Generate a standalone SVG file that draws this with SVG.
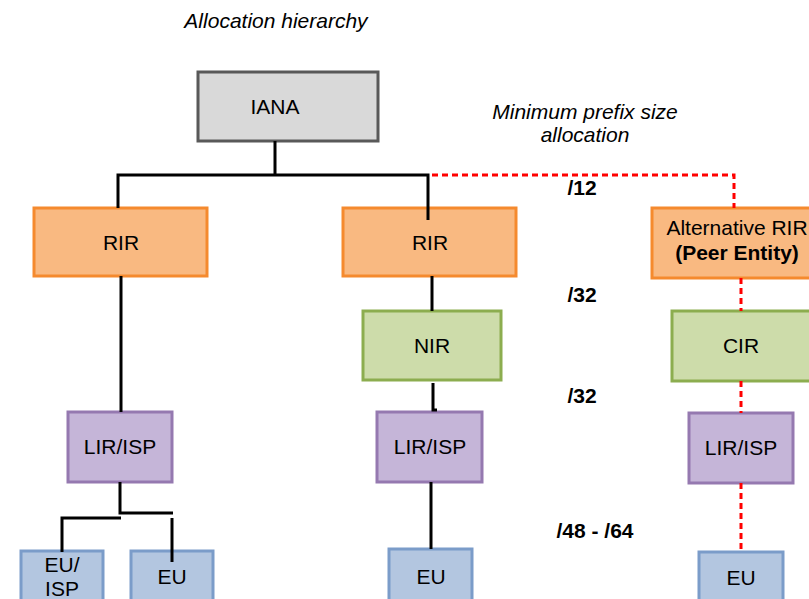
<svg xmlns="http://www.w3.org/2000/svg" width="809" height="599" viewBox="0 0 809 599">
<style>
text{font-family:"Liberation Sans",Arial,sans-serif;font-size:21px;fill:#000;text-anchor:middle}
.it{font-style:italic}
.b{font-weight:bold}
.iana{fill:#d9d9d9;stroke:#595959;stroke-width:3}
.rir{fill:#f9b981;stroke:#f58a2e;stroke-width:3}
.nir{fill:#cddcaa;stroke:#8cad4f;stroke-width:3}
.lir{fill:#c5b5d8;stroke:#9579b0;stroke-width:3}
.eu{fill:#b3c6e0;stroke:#7b9cc9;stroke-width:3}
.ln{fill:none;stroke:#000;stroke-width:3}
.rd{fill:none;stroke:#ff0000;stroke-width:3;stroke-dasharray:6 4}
</style>
<rect width="809" height="599" fill="#fff"/>
<text class="it" x="276" y="28">Allocation hierarchy</text>
<text class="it" x="585" y="119">Minimum prefix size</text>
<text class="it" x="585" y="142">allocation</text>
<text class="b" x="582" y="195">/12</text>
<text class="b" x="582" y="302">/32</text>
<text class="b" x="582" y="403">/32</text>
<text class="b" x="595" y="538">/48 - /64</text>
<g id="IANA"><rect class="iana" x="198" y="72" width="180" height="69"/><text x="275" y="114">IANA</text></g>
<g id="RIR1"><rect class="rir" x="34" y="208" width="173" height="68"/><text x="121" y="250">RIR</text></g>
<g id="RIR2"><rect class="rir" x="343" y="208" width="173" height="68"/><text x="430" y="250">RIR</text></g>
<g id="AltRIR"><rect class="rir" x="652" y="208" width="170" height="70"/><text x="737" y="235">Alternative RIR</text><text class="b" x="737" y="260">(Peer Entity)</text></g>
<g id="NIR"><rect class="nir" x="363" y="311" width="138" height="69"/><text x="432" y="353">NIR</text></g>
<g id="CIR"><rect class="nir" x="672" y="311" width="145" height="70"/><text x="741" y="353">CIR</text></g>
<g id="LIR1"><rect class="lir" x="68" y="412" width="104" height="70"/><text x="120" y="454">LIR/ISP</text></g>
<g id="LIR2"><rect class="lir" x="377" y="412" width="105" height="70"/><text x="430" y="454">LIR/ISP</text></g>
<g id="LIR3"><rect class="lir" x="689" y="413" width="104" height="70"/><text x="741" y="455">LIR/ISP</text></g>
<g id="EUISP"><rect class="eu" x="21" y="551" width="82" height="60"/><text x="62" y="572">EU/</text><text x="62" y="596">ISP</text></g>
<g id="EU1"><rect class="eu" x="131" y="551" width="82" height="60"/><text x="172" y="584">EU</text></g>
<g id="EU2"><rect class="eu" x="389" y="549" width="83" height="60"/><text x="431" y="584">EU</text></g>
<g id="EU3"><rect class="eu" x="699" y="552" width="84" height="60"/><text x="741" y="585">EU</text></g>
<g id="connectors">
<path class="ln" d="M275 141V175M118 208V175H428V220"/>
<path class="ln" d="M121 276V412"/>
<path class="ln" d="M432 276V311"/>
<path class="ln" d="M433 383V410H437"/>
<path class="ln" d="M431 482V549"/>
<path class="ln" d="M120 482V513H173"/>
<path class="ln" d="M62 552V518H121"/>
<path class="ln" d="M172 518V562"/>
<path class="rd" d="M432 175H734V208"/>
<path class="rd" d="M741 278V311"/>
<path class="rd" d="M741 381V413"/>
<path class="rd" d="M741 483V552"/>
</g>
</svg>
